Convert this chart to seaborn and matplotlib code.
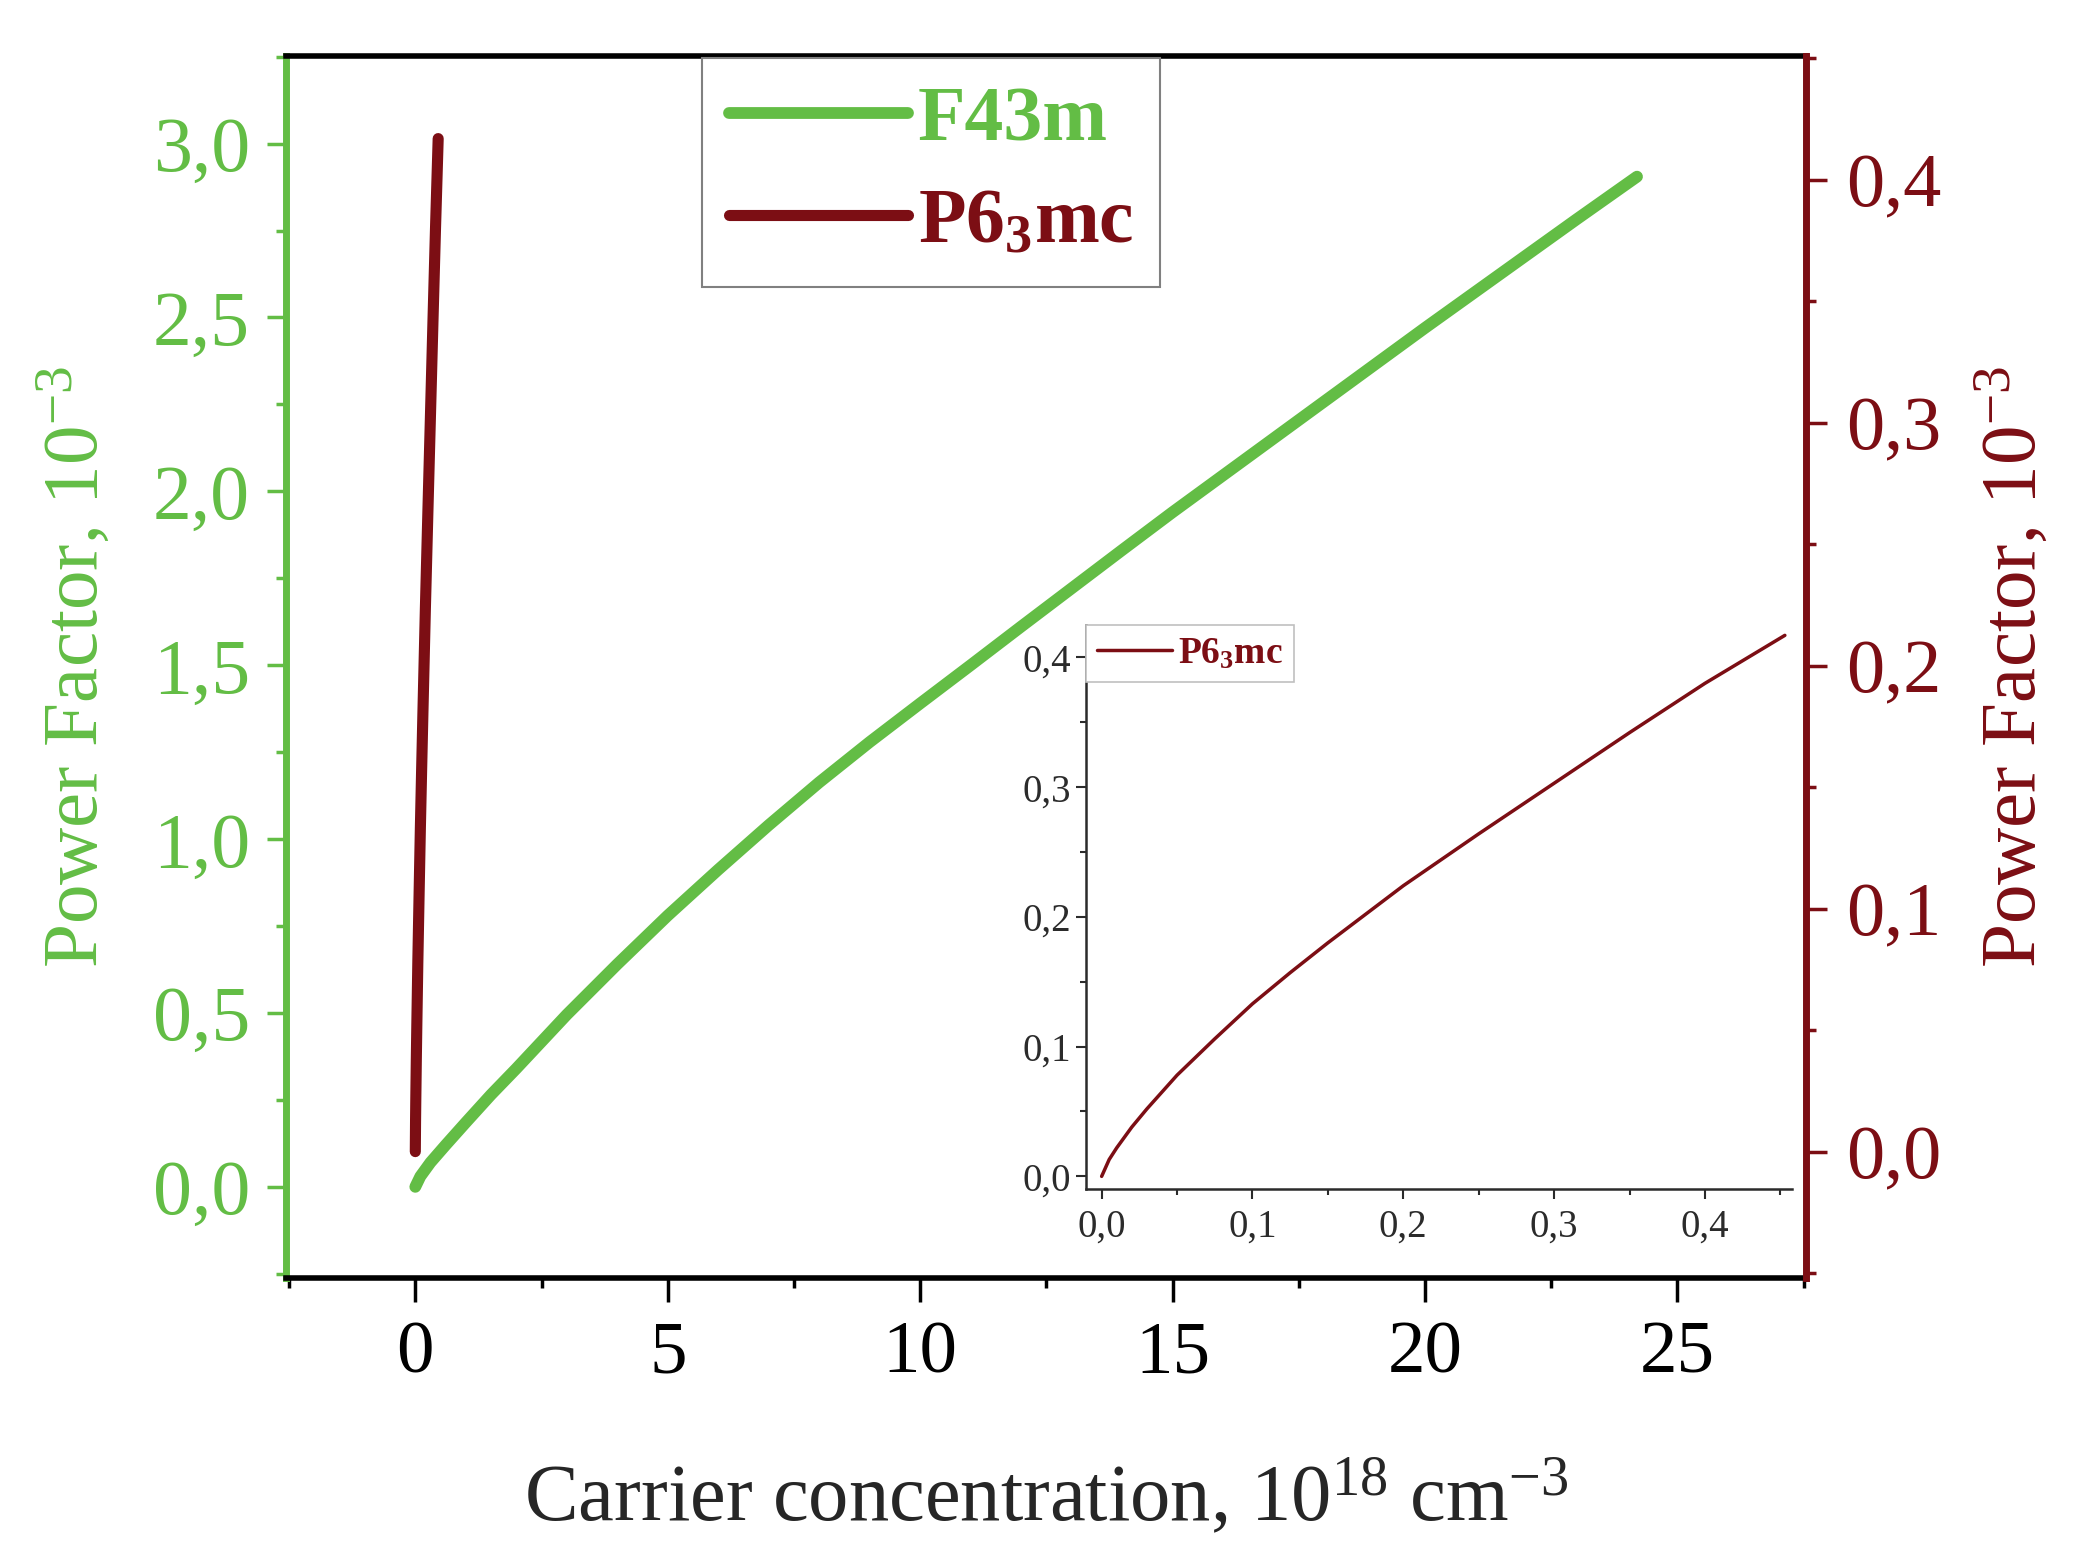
import matplotlib
matplotlib.use("Agg")
import matplotlib.pyplot as plt
import seaborn as sns
from matplotlib.ticker import MultipleLocator, FuncFormatter

# values
# F43m: carrier concentration (1e18 cm^-3) vs power factor (1e-3), left axis
f43m_n = [0.0, 0.1, 0.3, 0.6, 1, 1.5, 2, 3, 4, 5, 6, 7, 8, 9, 10, 11, 12, 13, 14, 15,
          16, 17, 18, 19, 20, 21, 22, 23, 24.2]
f43m_pf = [0.0, 0.03, 0.07, 0.12, 0.185, 0.265, 0.34, 0.495, 0.64, 0.78, 0.912, 1.04,
           1.163, 1.279, 1.39, 1.50, 1.611, 1.721, 1.831, 1.94, 2.046, 2.152, 2.258,
           2.364, 2.47, 2.574, 2.678, 2.782, 2.905]

# P6_3mc: right axis and inset
p63mc_n = [0.0, 0.005, 0.01, 0.02, 0.03, 0.05, 0.075, 0.1, 0.125, 0.15, 0.175,
           0.2, 0.25, 0.3, 0.35, 0.4, 0.453]
p63mc_pf = [0.0, 0.013, 0.022, 0.038, 0.052, 0.078, 0.106, 0.133, 0.157, 0.18,
            0.202, 0.224, 0.264, 0.303, 0.342, 0.380, 0.417]

labels = ["F43m", r"P6$_\mathbf{3}$mc"]

sns.set_style("ticks")
plt.rcParams["font.family"] = ["Liberation Serif", "DejaVu Serif"]
plt.rcParams["mathtext.fontset"] = "custom"
plt.rcParams["mathtext.rm"] = "Liberation Serif"
plt.rcParams["mathtext.it"] = "Liberation Serif:italic"
plt.rcParams["mathtext.bf"] = "Liberation Serif:bold"

green = "#63BD45"
red = "#7C0E14"

comma1 = FuncFormatter(lambda v, p: f"{v:.1f}".replace(".", ","))

fig = plt.figure(figsize=(20.76, 15.64), dpi=100)
ax = fig.add_axes([0.1378, 0.1829, 0.7322, 0.7813])
ax2 = ax.twinx()

sns.lineplot(x=f43m_n, y=f43m_pf, ax=ax, color=green, lw=8.5,
             solid_capstyle="round", legend=False)
sns.lineplot(x=p63mc_n, y=p63mc_pf, ax=ax2, color=red, lw=8,
             solid_capstyle="round", legend=False)

ax.set_xlim(-2.56, 27.55)
ax.set_ylim(-0.262, 3.252)
ax2.set_ylim(-0.052, 0.451)

# spines
ax.spines["left"].set_color(green)
ax.spines["left"].set_linewidth(5)
ax.spines["right"].set_visible(False)
for s in ["top", "bottom"]:
    ax.spines[s].set_color("black")
    ax.spines[s].set_linewidth(4)
for s in ["left", "top", "bottom"]:
    ax2.spines[s].set_visible(False)
ax2.spines["right"].set_color(red)
ax2.spines["right"].set_linewidth(5)

# ticks
ax.xaxis.set_major_locator(MultipleLocator(5))
ax.xaxis.set_minor_locator(MultipleLocator(2.5))
ax.yaxis.set_major_locator(MultipleLocator(0.5))
ax.yaxis.set_minor_locator(MultipleLocator(0.25))
ax.yaxis.set_major_formatter(comma1)
ax2.yaxis.set_major_locator(MultipleLocator(0.1))
ax2.yaxis.set_minor_locator(MultipleLocator(0.05))
ax2.yaxis.set_major_formatter(comma1)

ax.tick_params(axis="x", which="both", direction="out", colors="black", width=2.5,
               labelsize=54, pad=14)
ax.tick_params(axis="x", which="major", length=17)
ax.tick_params(axis="x", which="minor", length=7)
ax.tick_params(axis="y", which="both", direction="out", colors=green, width=2.5,
               labelsize=56, pad=12)
ax.tick_params(axis="y", which="major", length=14)
ax.tick_params(axis="y", which="minor", length=7)
ax2.tick_params(axis="y", which="both", direction="out", colors=red, width=2.5,
                labelsize=55, pad=14)
ax2.tick_params(axis="y", which="major", length=15)
ax2.tick_params(axis="y", which="minor", length=7)

ax.set_xlabel(r"Carrier concentration, 10$^{18}$ cm$^{-3}$", fontsize=58, labelpad=50)
ax.set_ylabel(r"Power Factor, 10$^{-3}$", fontsize=57, color=green, labelpad=28)
ax2.set_ylabel(r"Power Factor, 10$^{-3}$", fontsize=57, color=red, labelpad=24)

# main legend
handles = [ax.get_lines()[0], ax2.get_lines()[0]]
leg = ax2.legend(handles, labels, loc="upper left", bbox_to_anchor=(0.2737, 0.998),
                 borderaxespad=0, prop={"size": 56, "weight": "bold"},
                 handlelength=2.3, handletextpad=0.12, borderpad=0.35,
                 labelspacing=0.4, fancybox=False, framealpha=1, edgecolor="#808080")
leg.get_frame().set_linewidth(1.5)
for t, c in zip(leg.get_texts(), [green, red]):
    t.set_color(c)

# inset
axin = fig.add_axes([0.5231, 0.2398, 0.3400, 0.3606])
axin.set_facecolor("none")
sns.lineplot(x=p63mc_n, y=p63mc_pf, ax=axin, color=red, lw=2.5, legend=False)
axin.set_xlim(-0.0104, 0.4576)
axin.set_ylim(-0.0097, 0.425)
for s in ["top", "right"]:
    axin.spines[s].set_visible(False)
for s in ["left", "bottom"]:
    axin.spines[s].set_color("#2b2b2b")
    axin.spines[s].set_linewidth(1.8)
for a in [axin.xaxis, axin.yaxis]:
    a.set_major_locator(MultipleLocator(0.1))
    a.set_minor_locator(MultipleLocator(0.05))
    a.set_major_formatter(comma1)
axin.tick_params(which="both", direction="out", colors="#2b2b2b", width=1.5,
                 labelsize=28, pad=4)
axin.tick_params(axis="x", which="both", pad=7)
axin.tick_params(which="major", length=7)
axin.tick_params(which="minor", length=4)

leg2 = axin.legend([axin.get_lines()[0]], [labels[1]], loc="upper left",
                   bbox_to_anchor=(0, 1), borderaxespad=0,
                   prop={"size": 27, "weight": "bold"}, handlelength=2.0,
                   handletextpad=0.15, borderpad=0.3, fancybox=False,
                   framealpha=1, edgecolor="#c0c0c0")
leg2.get_frame().set_linewidth(1.2)
leg2.get_texts()[0].set_color(red)

fig.savefig("out.png", dpi=100)
